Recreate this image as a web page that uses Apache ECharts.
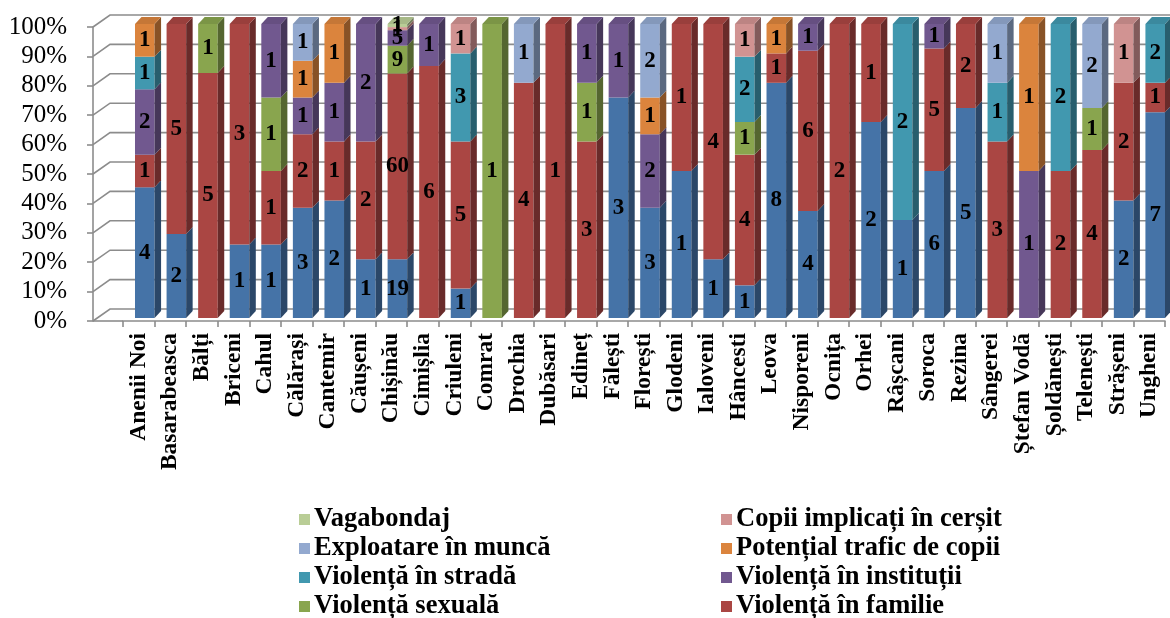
<!DOCTYPE html>
<html><head><meta charset="utf-8">
<script src="https://cdn.jsdelivr.net/npm/echarts@6/dist/echarts.min.js"></script>
<style>html,body{margin:0;padding:0;background:#fff}#c{width:1170px;height:618px}</style>
</head><body><div id="c"></div>
<script>
const categories = ['Anenii Noi','Basarabeasca','Bălți','Briceni','Cahul','Călărași','Cantemir','Căușeni','Chișinău','Cimișlia','Criuleni','Comrat','Drochia','Dubăsari','Edineț','Fălești','Florești','Glodeni','Ialoveni','Hâncesti','Leova','Nisporeni','Ocnița','Orhei','Râșcani','Soroca','Rezina','Sângerei','Ștefan Vodă','Șoldănești','Telenești','Strășeni','Ungheni'];
const fizica      = [4,2,0,1,1,3,2,1,19,0,1,0,0,0,0,3,3,1,1,1,8,4,0,2,1,6,5,0,0,0,0,2,7];
const familie     = [1,5,5,3,1,2,1,2,60,6,5,0,4,1,3,0,0,1,4,4,1,6,2,1,0,5,2,3,0,2,4,2,1];
const sexuala     = [0,0,1,0,1,0,0,0,9,0,0,1,0,0,1,0,0,0,0,1,0,0,0,0,0,0,0,0,0,0,1,0,0];
const institutii  = [2,0,0,0,1,1,1,2,5,1,0,0,0,0,1,1,2,0,0,0,0,1,0,0,0,1,0,0,1,0,0,0,0];
const strada      = [1,0,0,0,0,0,0,0,0,0,3,0,0,0,0,0,0,0,0,2,0,0,0,0,2,0,0,1,0,2,0,0,2];
const trafic      = [1,0,0,0,0,1,1,0,0,0,0,0,0,0,0,0,1,0,0,0,1,0,0,0,0,0,0,0,1,0,0,0,0];
const exploatare  = [0,0,0,0,0,1,0,0,0,0,0,0,1,0,0,0,2,0,0,0,0,0,0,0,0,0,0,1,0,0,2,0,0];
const cersit      = [0,0,0,0,0,0,0,0,1,0,1,0,0,0,0,0,0,0,0,1,0,0,0,0,0,0,0,0,0,0,0,1,0];
const vagabondaj  = [0,0,0,0,0,0,0,0,1,0,0,0,0,0,0,0,0,0,0,0,0,0,0,0,0,0,0,0,0,0,0,0,0];
const yTicks = [0,10,20,30,40,50,60,70,80,90,100];
const legendLeft  = ['Vagabondaj','Exploatare în muncă','Violență în stradă','Violență sexuală'];
const legendRight = ['Copii implicați în cerșit','Potențial trafic de copii','Violență în instituții','Violență în familie'];

const seriesDefs = [
  {name:'Violență fizică', data:fizica, color:'#4573A7'},
  {name:'Violență în familie', data:familie, color:'#AA4643'},
  {name:'Violență sexuală', data:sexuala, color:'#89A54E'},
  {name:'Violență în instituții', data:institutii, color:'#71588F'},
  {name:'Violență în stradă', data:strada, color:'#4198AF'},
  {name:'Potențial trafic de copii', data:trafic, color:'#DB843D'},
  {name:'Exploatare în muncă', data:exploatare, color:'#93A9CF'},
  {name:'Copii implicați în cerșit', data:cersit, color:'#D19392'},
  {name:'Vagabondaj', data:vagabondaj, color:'#B9CD96'}
];

const totals = categories.map((c,i)=>seriesDefs.reduce((s,d)=>s+d.data[i],0));
const cum = categories.map(()=>0);
const FONT = '"Liberation Serif","Times New Roman",serif';

function shade(hex, f){
  const n = parseInt(hex.slice(1),16);
  const r = Math.round(((n>>16)&255)*f), g = Math.round(((n>>8)&255)*f), b = Math.round((n&255)*f);
  return 'rgb('+r+','+g+','+b+')';
}

function makeRender(color){
  const side = shade(color,0.62);
  const top = shade(color,0.9);
  return function(params, api){
    const idx = api.value(0), s = api.value(1), e = api.value(2), n = api.value(3), isTop = api.value(4);
    const p0 = api.coord([idx, s]), p1 = api.coord([idx, e]);
    const cw = api.size([1,0])[0];
    const w = cw*0.62, xl = p0[0] + cw*0.19 - w/2, xr = xl + w;
    const yb = p0[1]-3, yt = p1[1]-3;
    const dx = 6.5, dy = -7;
    const children = [
      {type:'rect', shape:{x:xl, y:yt, width:w, height:yb-yt}, style:{fill:color}},
      {type:'polygon', shape:{points:[[xr,yt],[xr+dx,yt+dy],[xr+dx,yb+dy],[xr,yb]]}, style:{fill:side}}
    ];
    if (isTop) children.push({type:'polygon', shape:{points:[[xl,yt],[xl+dx,yt+dy],[xr+dx,yt+dy],[xr,yt]]}, style:{fill:top}});
    children.push({type:'text', z2:100, style:{text:String(n), x:(xl+xr)/2, y:(yt+yb)/2, align:'center', verticalAlign:'middle', font:'bold 23px '+FONT, fill:'#000'}});
    return {type:'group', children};
  };
}

const series = [];
series.push({
  type:'custom', name:'grid', silent:true, z:1,
  data: yTicks.map(v=>[0,v]), encode:{x:0,y:1},
  renderItem:function(params, api){
    const y = api.coord([0, api.value(1)])[1];
    const cs = params.coordSys;
    const x0 = cs.x - 30;
    const ch = [{type:'polyline', shape:{points:[[x0,y],[x0+17,y-12],[1170,y-12]]}, style:{stroke:'#8c8c8c', lineWidth:1.6, fill:null}}];
    if (api.value(1)===0) ch.push({type:'line', shape:{x1:x0,y1:y,x2:cs.x,y2:y}, style:{stroke:'#8c8c8c', lineWidth:1.6}});
    return {type:'group', children:ch};
  }
});
seriesDefs.forEach((d, k)=>{
  const items = [];
  d.data.forEach((v,i)=>{
    if (!v) return;
    const s = cum[i]/totals[i]*100; cum[i]+=v; const e = cum[i]/totals[i]*100;
    items.push([i, s, e, v, cum[i]===totals[i]?1:0]);
  });
  series.push({type:'custom', name:d.name, itemStyle:{color:d.color}, z:2, data:items, encode:{x:0,y:[1,2]}, renderItem:makeRender(d.color)});
});

const legends = [];
function addLegend(names, left, gap){
  names.forEach((nm, r)=>{
    legends.push({orient:'horizontal', left:left, top:519 + r*29 - 13, padding:0, itemWidth:11, itemHeight:11, itemGap:0, icon:'rect',
      data:[nm], textStyle:{color:'#000', fontFamily:FONT, fontWeight:'bold', fontSize:26.5, lineHeight:26, padding:[0,0,0,gap-5]}});
  });
}
addLegend(legendLeft, 299, 4);
addLegend(legendRight, 721, 4);

const chart = echarts.init(document.getElementById('c'), null, {renderer:'canvas'});
chart.setOption({
  animation:false,
  backgroundColor:'#fff',
  grid:{left:123, right:5, top:27, bottom:297, containLabel:false},
  xAxis:{type:'category', data:categories,
    axisLine:{lineStyle:{color:'#8c8c8c', width:1.6}},
    axisTick:{show:true, length:6, lineStyle:{color:'#8c8c8c', width:1.6}},
    axisLabel:{rotate:90, interval:0, margin:12, color:'#000', fontFamily:FONT, fontWeight:'bold', fontSize:23.5},
    splitLine:{show:false}},
  yAxis:{type:'value', min:0, max:100, interval:10, offset:30,
    axisLine:{show:true, lineStyle:{color:'#8c8c8c', width:1.6}},
    axisTick:{show:true, length:6, lineStyle:{color:'#8c8c8c', width:1.6}},
    axisLabel:{margin:26, color:'#000', fontFamily:FONT, fontSize:25, formatter:v=>v+'%'},
    splitLine:{show:false}},
  legend: legends,
  series
});
</script></body></html>
